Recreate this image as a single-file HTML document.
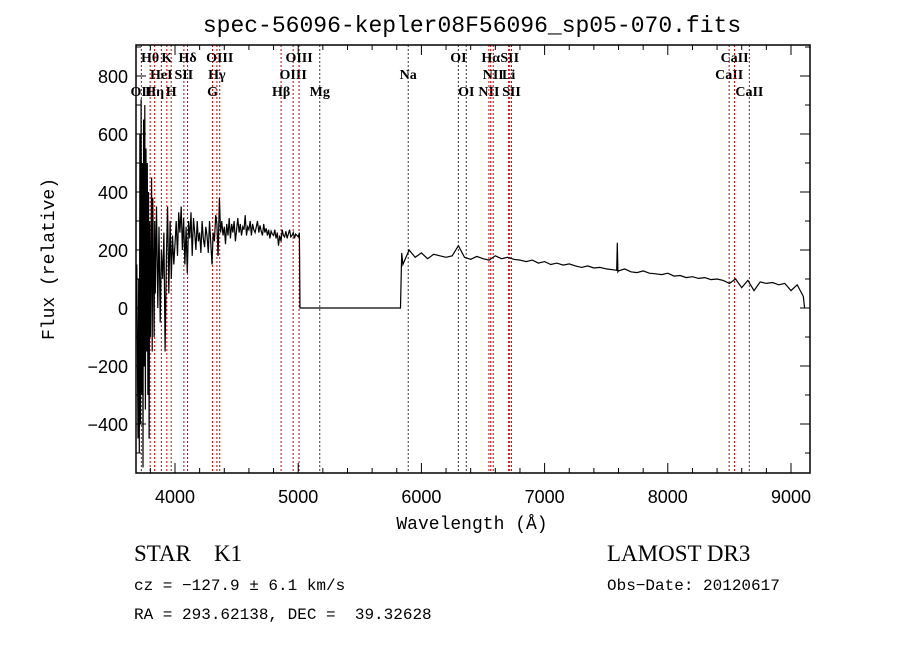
<!DOCTYPE html>
<html><head><meta charset="utf-8"><style>
body{margin:0;background:#fff;}
svg{display:block;font-family:"Liberation Sans",sans-serif;}
text{white-space:pre;}
.lbl{font-family:"Liberation Serif",serif;font-size:14px;font-weight:bold;}
</style></head><body>
<svg id="chart" width="900" height="649" viewBox="0 0 900 649" xml:space="preserve">
<rect width="900" height="649" fill="#fff"/>
<text x="472" y="32" text-anchor="middle" font-family="Liberation Mono,monospace" font-size="23">spec-56096-kepler08F56096_sp05-070.fits</text>
<g id="lines"></g>
<g id="spec"></g>
<g id="axes"></g>
<text x="472" y="529" text-anchor="middle" font-family="Liberation Mono,monospace" font-size="18">Wavelength (Å)</text>
<text transform="translate(54,259) rotate(-90)" text-anchor="middle" font-family="Liberation Mono,monospace" font-size="18">Flux (relative)</text>
<text x="134" y="561" font-family="Liberation Serif,serif" font-size="23">STAR    K1</text>
<text x="607" y="561" font-family="Liberation Serif,serif" font-size="23">LAMOST DR3</text>
<text x="134" y="590" font-family="Liberation Mono,monospace" font-size="16">cz = −127.9 ± 6.1 km/s</text>
<text x="607" y="590" font-family="Liberation Mono,monospace" font-size="16">Obs−Date: 20120617</text>
<text x="134" y="619" font-family="Liberation Mono,monospace" font-size="16">RA = 293.62138, DEC =  39.32628</text>
</svg>
<script>
const waveBlue=[3690,3700,3705,3710,3715,3720,3725,3730,3735,3740,3745,3750,3755,3760,3765,3770,3775,3780,3785,3790,3795,3800,3810,3815,3820,3830,3835,3840,3850,3860,3870,3880,3890,3900,3910,3920,3930,3940,3950,3960,3970,3980,3990];
const fluxBlue=[150,-450,100,-500,600,-400,720,-300,500,-550,650,-200,700,-350,550,-150,500,-300,400,-450,300,-100,450,-150,380,-100,300,50,350,0,280,-50,200,100,260,-150,180,350,50,300,100,250,150];
const fluxMid=[220,300,180,330,260,350,200,310,150,280,120,300,240,330,180,310,260,200,300,230,260,190,300,240,210,280,250,190,300,230,150,260,230,320,290,180,380,260,300,250,
280,220,290,250,310,240,290,260,300,230,270,310,260,290,250,280,270,320,250,280,270,300,250,290,270,260,280,300,260,285,265,250,290,260,275,250,270,240,265,255,
250,270,240,260,215,250,230,270,250,245,265,240,255,270,245,250,260,240,255,250,245,260];
const waveRed=[5015,5830,5840,5850,5900,5950,6000,6050,6100,6150,6200,6250,6300,6350,6400,6450,6500,6550,6600,6650,6700,6750,6800,6850,6900,6950,7000,7050,7100,7150,7200,7250,7300,7350,7400,7450,7500,7550,7585,7590,7595,7600,7650,7700,7750,7800,7850,7900,7950,8000,8050,8100,8150,8200,8250,8300,8350,8400,8450,8500,8550,8600,8650,8700,8750,8800,8850,8900,8950,9000,9050,9100,9110];
const fluxRed=[0,0,190,150,200,175,190,170,185,180,175,180,215,175,168,178,170,165,180,170,175,168,165,160,165,155,160,150,155,148,152,145,140,145,138,140,135,132,130,225,125,128,135,125,122,128,120,118,115,120,110,112,105,108,102,105,98,100,95,85,100,70,95,60,90,85,88,80,85,60,80,40,0];
const lineWl=[3727,3798,3835,3889,3934,3969,4072,4102,4305,4340,4363,4861,4959,5007,5175,5893,6300,6364,6548,6563,6583,6708,6717,6731,8498,8542,8662];
const lineNames=["OII","Hθ","Hη","HeI","K","H","SII","Hδ","G","Hγ","OIII","Hβ","OIII","OIII","Mg","Na","OI","OI","NII","Hα","NII","Li","SII","SII","CaII","CaII","CaII"];
const lineRow=[2,0,2,1,0,2,1,0,2,1,0,2,1,0,2,1,0,2,2,0,1,1,0,2,1,0,2];
const lineColor=[1,1,1,1,1,1,1,1,1,1,1,1,1,1,0,0,0,0,1,1,1,1,1,1,1,1,1];
const xTicks=[4000,5000,6000,7000,8000,9000];
const yTicks=[-400,-200,0,200,400,600,800];
const wave=[],flux=[];
waveBlue.forEach((w,i)=>{wave.push(w);flux.push(fluxBlue[i]);});
fluxMid.forEach((f,i)=>{wave.push(4000+i*10);flux.push(f);});
waveRed.forEach((w,i)=>{wave.push(w);flux.push(fluxRed[i]);});
const L=136,R=810,T=45,B=473;
const X=w=>175+(w-4000)*0.1232;
const Y=f=>308-f*0.29;
const NS="http://www.w3.org/2000/svg";
function mk(t,a,p){const e=document.createElementNS(NS,t);for(const k in a)e.setAttribute(k,a[k]);p.appendChild(e);return e;}
const gl=document.getElementById('lines');
lineWl.forEach((w,i)=>{
 const l=mk('line',{x1:X(w),x2:X(w),y1:T,y2:B,stroke:lineColor[i]?'#c00000':'#333','stroke-width':1,'stroke-dasharray':'2,2'},gl);
 
 
 const t=mk('text',{x:X(w),y:62+lineRow[i]*17,'text-anchor':'middle',class:'lbl'},gl);
 t.textContent=lineNames[i];
 
 
});
const cl=mk('clipPath',{id:'cp'},document.getElementById('chart'));
mk('rect',{x:L,y:T,width:R-L,height:B-T},cl);
const gs=document.getElementById('spec');
const path=mk('path',{d:wave.map((w,i)=>(i?'L':'M')+X(w).toFixed(1)+','+Y(flux[i]).toFixed(1)).join(''),fill:'none',stroke:'#000','stroke-width':1.2,'clip-path':'url(#cp)'},gs);


const ga=document.getElementById('axes');
const fr=mk('rect',{x:L,y:T,width:R-L,height:B-T,fill:'none',stroke:'#000','stroke-width':1.5},ga);


for(let w=3800;w<=9100;w+=200){const big=w%1000===0;const h=big?10:5;
 mk('line',{x1:X(w),x2:X(w),y1:B,y2:B-h,stroke:'#000'},ga);mk('line',{x1:X(w),x2:X(w),y1:T,y2:T+h,stroke:'#000'},ga);}
for(let f=-500;f<=900;f+=100){const big=f%200===0;const h=big?10:5;
 mk('line',{x1:L,x2:L+h,y1:Y(f),y2:Y(f),stroke:'#000'},ga);mk('line',{x1:R,x2:R-h,y1:Y(f),y2:Y(f),stroke:'#000'},ga);}
xTicks.forEach(v=>{const t=mk('text',{x:X(v),y:503,'text-anchor':'middle','font-size':18},ga);t.textContent=v;
 
 });
yTicks.forEach(v=>{const t=mk('text',{x:128,y:Y(v)+7,'text-anchor':'end','font-size':18},ga);t.textContent=v<0?'−'+(-v):v;
 
 });
</script>
</body></html>
